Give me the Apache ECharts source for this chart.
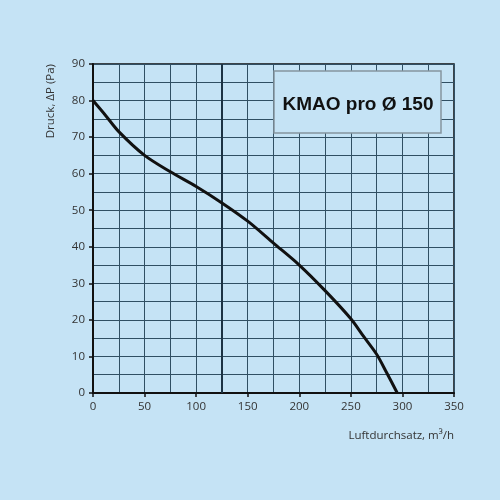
<!DOCTYPE html>
<html>
<head>
<meta charset="utf-8">
<script src="https://cdn.jsdelivr.net/npm/echarts@6/dist/echarts.min.js"></script>
<style>
  html, body { margin: 0; padding: 0; background: #c5e3f5; }
  #chart { width: 500px; height: 500px; }
</style>
</head>
<body>
<div id="chart"></div>
<script>
// Luftdurchsatz (m3/h) und Druck (Pa)
const flow = [0, 12, 25, 50, 75, 100, 125, 150, 175, 200, 225, 250, 262, 275, 285, 295];
const pressure = [80, 76, 71.5, 65, 60.5, 56.5, 52, 47, 41, 35, 28, 20.3, 15.6, 10.6, 5.4, 0];
const xTicks = [0, 350, 50];
const yTicks = [0, 90, 10];
const title = 'KMAO pro Ø 150';

const gridColor = '#304f63';
const chart = echarts.init(document.getElementById('chart'));

chart.setOption({
    backgroundColor: '#c5e3f5',
    animation: false,
    grid: {
        left: 93,
        right: 46,
        top: 64,
        bottom: 107,
        show: true,
        borderColor: '#111',
        borderWidth: 1.5
    },
    xAxis: {
        type: 'value',
        min: xTicks[0],
        max: xTicks[1],
        interval: xTicks[2],
        name: 'Luftdurchsatz, m³/h',
        nameLocation: 'end',
        nameGap: 0,
        nameTextStyle: {
            color: '#333',
            fontSize: 11.5,
            fontFamily: 'Open Sans',
            align: 'right',
            verticalAlign: 'top',
            padding: [37, 0, 0, 0]
        },
        axisLine: { lineStyle: { color: '#111', width: 2 } },
        axisTick: { show: true, length: 4, inside: false, lineStyle: { color: '#111', width: 1.5 } },
        axisLabel: { color: '#333', fontSize: 11.5, fontFamily: 'Open Sans', margin: 8 },
        splitLine: { lineStyle: { color: gridColor, width: 1 } },
        minorTick: { show: false, splitNumber: 2 },
        minorSplitLine: { show: true, lineStyle: { color: gridColor, width: 1 } }
    },
    yAxis: {
        type: 'value',
        min: yTicks[0],
        max: yTicks[1],
        interval: yTicks[2],
        name: 'Druck, ΔP (Pa)',
        nameLocation: 'end',
        nameRotate: 90,
        nameGap: 0,
        nameTextStyle: {
            color: '#333',
            fontSize: 11.5,
            fontFamily: 'Open Sans',
            align: 'right',
            verticalAlign: 'bottom',
            padding: [0, 0, 36, 0]
        },
        axisLine: { lineStyle: { color: '#111', width: 2 } },
        axisTick: { show: true, length: 4, inside: false, lineStyle: { color: '#111', width: 1.5 } },
        axisLabel: { color: '#333', fontSize: 11.5, fontFamily: 'Open Sans', margin: 8 },
        splitLine: { lineStyle: { color: gridColor, width: 1 } },
        minorTick: { show: false, splitNumber: 2 },
        minorSplitLine: { show: true, lineStyle: { color: gridColor, width: 1 } }
    },
    graphic: [{
        type: 'rect',
        z: 100,
        zlevel: 1,
        shape: { x: 274, y: 71, width: 167, height: 62 },
        style: { fill: '#c5e3f5', stroke: '#85959f', lineWidth: 1.5 }
    }, {
        type: 'text',
        z: 101,
        zlevel: 1,
        x: 358,
        y: 105,
        style: {
            text: title,
            fill: '#111',
            font: 'bold 19px Liberation Sans',
            textAlign: 'center',
            textVerticalAlign: 'middle'
        }
    }],
    series: [{
        type: 'line',
        data: flow.map((f, i) => [f, pressure[i]]),
        smooth: 0.3,
        symbol: 'none',
        lineStyle: { color: '#111', width: 3 },
        markLine: {
            silent: true,
            symbol: 'none',
            label: { show: false },
            lineStyle: { color: '#1c3344', width: 2, type: 'solid' },
            data: [{ xAxis: 125 }]
        },
        z: 5
    }]
});
</script>
</body>
</html>
